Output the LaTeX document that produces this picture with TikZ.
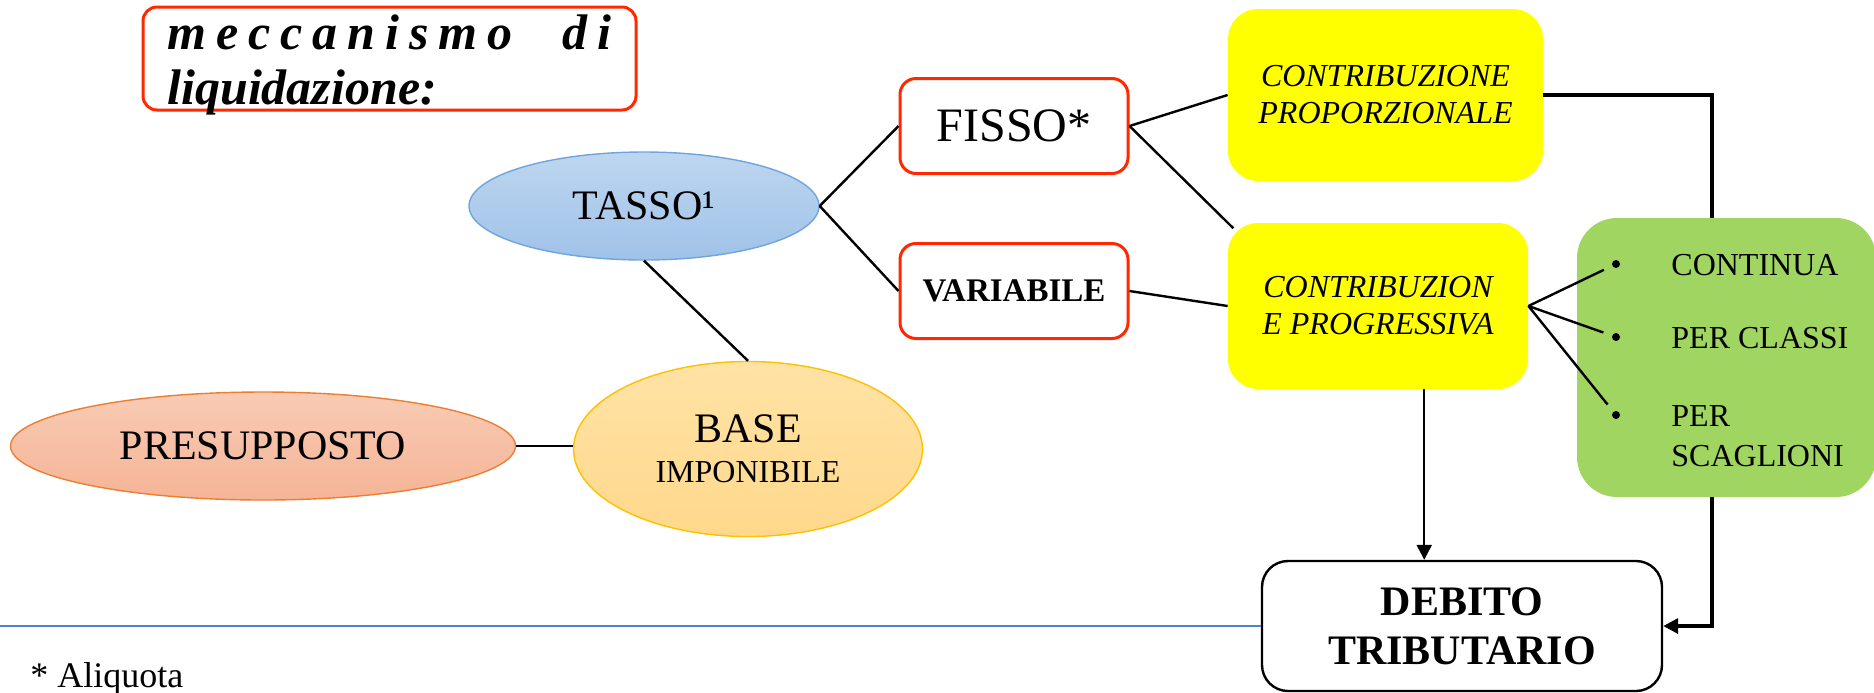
\documentclass[tikz,border=0pt]{standalone}
\usepackage{fontspec}
\setmainfont{Liberation Serif}
\usepackage{tikz}
\usetikzlibrary{shapes.geometric,arrows.meta}

\definecolor{rosso}{RGB}{255,40,0}
\definecolor{gialloforte}{RGB}{255,255,0}
\definecolor{verdechiaro}{RGB}{161,213,98}
\definecolor{bluelinea}{RGB}{80,130,205}

\begin{document}
\begin{tikzpicture}[x=0.5pt,y=-0.5pt,
    ovale/.style={shape=ellipse, inner sep=0pt, line width=0.7pt, font=\fontsize{21}{24}\selectfont},
    riquadro/.style={shape=rectangle, rounded corners=8pt, draw=rosso, line width=1.5pt,
        minimum width=114pt, minimum height=47.5pt, inner sep=0pt},
    giallo/.style={shape=rectangle, rounded corners=15pt, fill=gialloforte, align=center,
        inner sep=0pt, font=\fontsize{16}{18.5}\selectfont\itshape},
    linea/.style={line width=1.2pt},
    punto/.style={shape=circle, fill, inner sep=0pt, minimum size=4pt},
    voce/.style={inner sep=0pt, align=left, font=\fontsize{16}{20}\selectfont}]
    \useasboundingbox (0,0) rectangle (1874,692);

    % titolo
    \node[draw=rosso, line width=1.5pt, rounded corners=7pt, minimum width=246.5pt,
        minimum height=51.5pt, inner sep=0pt] (titolo) at (389.5,58.5) {};
    \node[anchor=north west, inner sep=0pt, text width=222pt,
        font=\fontsize{25}{27.5}\selectfont\bfseries\itshape] (titolotesto) at (167,14)
        {\hbox to \linewidth{m\hfill e\hfill c\hfill c\hfill a\hfill n\hfill i\hfill s\hfill m\hfill o\hfill\hfill\hfill\hfill\hfill d\hfill i}\\liquidazione:};

    \node[ovale, draw={rgb,255:red,111;green,165;blue,220}, top color={rgb,255:red,190;green,214;blue,240},
        bottom color={rgb,255:red,160;green,194;blue,232}, minimum width=175pt, minimum height=54pt] (tasso) at (644,206) {TASSO¹};
    \node[ovale, draw={rgb,255:red,237;green,125;blue,49}, top color={rgb,255:red,248;green,203;blue,180},
        bottom color={rgb,255:red,245;green,180;blue,150}, minimum width=252.5pt, minimum height=54pt] (presupposto) at (263,446) {PRESUPPOSTO};
    \node[ovale, draw={rgb,255:red,255;green,192;blue,0}, top color={rgb,255:red,255;green,227;blue,165},
        bottom color={rgb,255:red,255;green,216;blue,140}, minimum width=174.5pt, minimum height=87.5pt,
        align=center, font=\fontsize{16}{20}\selectfont] (base) at (748,449) {{\fontsize{21}{20}\selectfont BASE}\\IMPONIBILE};

    \node[riquadro, font=\fontsize{24}{28}\selectfont] (fisso) at (1014,126) {FISSO*};
    \node[riquadro, font=\fontsize{16.5}{20}\selectfont\bfseries] (variabile) at (1014,291) {VARIABILE};

    \node[giallo, minimum width=157.5pt, minimum height=86pt] (prop) at (1385.5,95) {CONTRIBUZIONE\\PROPORZIONALE};
    \node[giallo, minimum width=150pt, minimum height=83pt] (prog) at (1378,306) {CONTRIBUZION\\E PROGRESSIVA};

    \node[fill=verdechiaro, rounded corners=20pt, minimum width=149.5pt, minimum height=139.5pt, inner sep=0pt] (verde) at (1726.5,357.5) {};
    \node[punto] (p1) at (1616,264) {};
    \node[punto] (p2) at (1616,337) {};
    \node[punto] (p3) at (1616,415) {};
    \node[voce, anchor=base west] (continua) at (1671,275) {CONTINUA};
    \node[voce, anchor=base west] (classi) at (1671,348) {PER CLASSI};
    \node[voce, anchor=west] (scaglioni) at (1671,436) {PER\\SCAGLIONI};

    \node[draw, line width=1.2pt, rounded corners=13pt, minimum width=200pt, minimum height=65pt,
        inner sep=0pt, align=center, font=\fontsize{21}{24.5}\selectfont\bfseries] (debito) at (1462,626) {DEBITO\\TRIBUTARIO};

    \node[anchor=base west, inner sep=0pt, font=\fontsize{18}{20}\selectfont] (nota) at (30,687) {* Aliquota};
    \coordinate (margine) at (0,626);

    \draw[line width=1.2pt, bluelinea] (margine) -- (debito.west);

    \draw[linea] (tasso.south) -- (base.north);
    \draw[linea] (presupposto.east) -- (presupposto.east -| base.west);
    \draw[linea] (tasso.east) -- (fisso.west);
    \draw[linea] (tasso.east) -- (variabile.west);
    \draw[linea] (fisso.east) -- (prop.west);
    \draw[linea, shorten >=-4pt] (fisso.east) -- (prog.north west);
    \draw[linea] (variabile.east) -- (prog.west);
    \draw[linea, shorten >=4.5pt] (prog.east) -- (p1);
    \draw[linea, shorten >=4.5pt] (prog.east) -- (p2);
    \draw[linea, shorten >=4.5pt] (prog.east) -- (p3);

    \draw[linea, -{Triangle[length=7.5pt,width=7.5pt]}] (prog.299) -- (prog.299 |- debito.north);
    \draw[line width=1.7pt] (prop.east) -| (verde.96);
    \draw[line width=1.7pt, -{Triangle[length=7.5pt,width=7.5pt]}] (verde.264) |- (debito.east);
\end{tikzpicture}
\end{document}
